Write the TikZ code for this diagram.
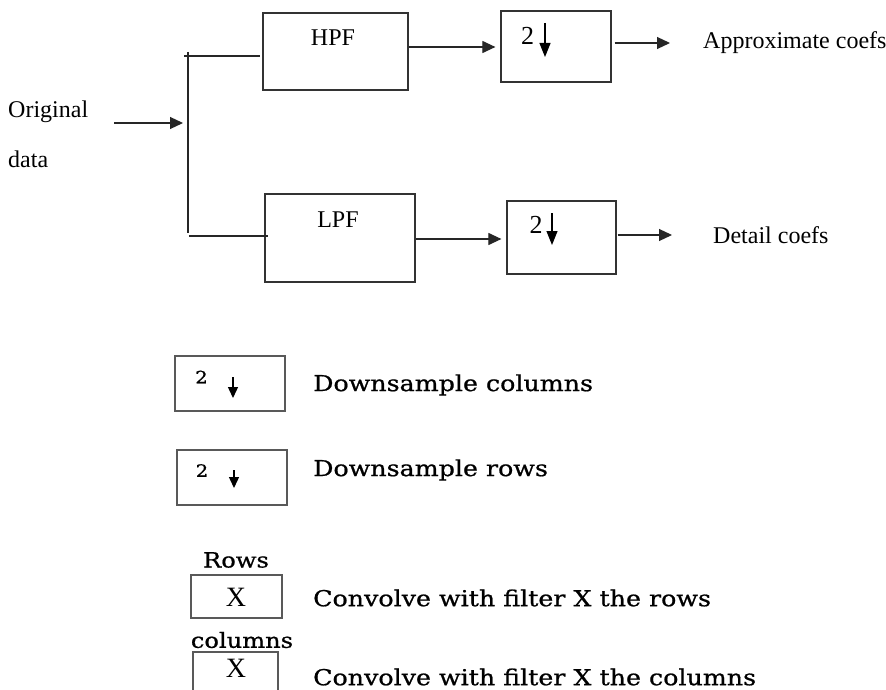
\documentclass[tikz,border=0pt]{standalone}
\usepackage{fontspec}
\setmainfont{Liberation Serif}
\newfontfamily\legfont[FakeStretch=1.15,FakeBold=0.8]{DejaVu Serif}
\usepackage{tikz}
\usetikzlibrary{positioning}
\usetikzlibrary{arrows.meta}

\tikzset{
  wire/.style={line width=1.1pt, draw=black!85},
  arr/.style={wire, -{Triangle[length=13pt,width=12pt]}, shorten >=5pt},
  dn/.style={line width=1.1pt, -{Triangle[length=14pt,width=11pt]}},
  dnsmall/.style={line width=1.4pt, -{Triangle[length=11pt,width=10pt]}},
  blk/.style={draw=black!80, line width=1.2pt, inner sep=0pt},
  keybox/.style={draw=black!65, line width=1.4pt, inner sep=0pt},
  txt/.style={inner sep=0pt, font=\fontsize{24}{28}\selectfont},
  legtxt/.style={inner sep=0pt, anchor=west, font=\legfont\fontsize{22}{25}\selectfont},
  keylbl/.style={inner sep=0pt, font=\legfont\fontsize{21}{24}\selectfont},
}

\begin{document}
\begin{tikzpicture}[x=1pt,y=-1pt]
  \clip (0,0) rectangle (886,690);
  \fill[white] (0,0) rectangle (886,690);

  % input
  \node[txt, anchor=west] (orig) at (8,112) {Original};
  \node[txt, anchor=west] (data) at (8,159) {data};
  \coordinate (inA) at (114,123);
  \coordinate (split) at (188,123);
  \coordinate (top) at (188,52);
  \coordinate (bot) at (188,233);
  \coordinate (hin) at (184,56);
  \coordinate (lin) at (189,236);

  % filters
  \node[blk, minimum width=145pt, minimum height=77pt] (hpf) at (335.5,51.5) {};
  \node[txt] (hpfT) at (333,38) {HPF};
  \node[blk, minimum width=150pt, minimum height=88pt] (lpf) at (340,238) {};
  \node[txt] (lpfT) at (338,220) {LPF};

  % downsampling
  \node[blk, minimum width=110pt, minimum height=71pt] (dsA) at (556,46.5) {};
  \node[txt, font=\fontsize{26}{30}\selectfont] (twoA) at (527.5,36) {2};
  \coordinate (dnA) at (545,23);
  \draw[dn] (dnA) -- ++(0,34);
  \node[blk, minimum width=109pt, minimum height=73pt] (dsB) at (561.5,237.5) {};
  \node[txt, font=\fontsize{26}{30}\selectfont] (twoB) at (536,225) {2};
  \coordinate (dnB) at (552,213);
  \draw[dn] (dnB) -- ++(0,32);

  \coordinate (outA) at (670,43);
  \coordinate (outB) at (672,235);
  \node[txt, anchor=west, right=33pt of outA] (appr) {Approximate coefs};
  \node[txt, anchor=west, right=41pt of outB] (det) {Detail coefs};

  \draw[arr] (inA) -- (split);
  \draw[wire] (top) -- (bot);
  \draw[wire] (hin) -- ([xshift=-2pt]hin -| hpf.west);
  \draw[wire] (lin) -- ([xshift=4pt]lin -| lpf.west);
  \draw[arr] ([yshift=4.5pt]hpf.east) -- ([yshift=4.5pt]hpf.east -| dsA.west);
  \draw[arr] ([yshift=-1pt]lpf.east) -- ([yshift=-1pt]lpf.east -| dsB.west);
  \draw[arr, shorten >=0pt] ([shift={(3pt,3.5pt)}]dsA.east) -- (outA);
  \draw[arr, shorten >=0pt] ([shift={(1pt,2.5pt)}]dsB.east) -- (outB);

  % key
  \node[keybox, minimum width=110pt, minimum height=55pt] (keyA) at (230,383.5) {};
  \node[keylbl, font=\legfont\fontsize{17}{20}\selectfont] (ktwoA) at (201.5,377) {2};
  \coordinate (kdnA) at (233,377);
  \draw[dnsmall] (kdnA) -- ++(0,21);
  \node[legtxt] (keyAT) at (313,385) {Downsample columns};

  \node[keybox, minimum width=110pt, minimum height=55pt] (keyB) at (232,477.5) {};
  \node[keylbl, font=\legfont\fontsize{17}{20}\selectfont] (ktwoB) at (202,470.5) {2};
  \coordinate (kdnB) at (234,470);
  \draw[dnsmall] (kdnB) -- ++(0,18);
  \node[legtxt] (keyBT) at (313,470) {Downsample rows};

  \node[keylbl] (rows) at (236,560) {Rows};
  \node[keybox, minimum width=91pt, minimum height=43pt] (keyC) at (236.5,596.5) {};
  \node[txt, font=\fontsize{28}{32}\selectfont] (xC) at (236,597) {X};
  \node[legtxt] (keyCT) at (313,598) {Convolve with filter X the rows};

  \node[keylbl] (cols) at (242,640) {columns};
  \node[keybox, minimum width=85pt, minimum height=60pt] (keyD) at (235.5,682) {};
  \node[txt, font=\fontsize{28}{32}\selectfont] (xD) at (236,668) {X};
  \node[legtxt] (keyDT) at (313,677) {Convolve with filter X the columns};
\end{tikzpicture}
\end{document}
